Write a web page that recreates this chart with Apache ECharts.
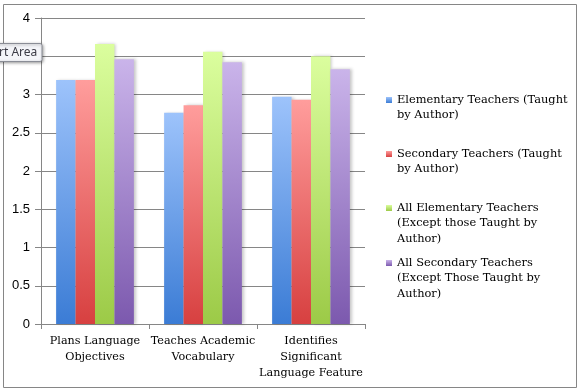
<!DOCTYPE html>
<html>
<head>
<meta charset="utf-8">
<script src="https://cdn.jsdelivr.net/npm/echarts@6/dist/echarts.min.js"></script>
<style>
html,body{margin:0;padding:0;background:#fff;}
#chart{width:582px;height:391px;}
</style>
</head>
<body>
<div id="chart"></div>
<script>
const categories = ['Plans Language\nObjectives', 'Teaches Academic\nVocabulary', 'Identifies\nSignificant\nLanguage Feature'];
const seriesNames = [
  'Elementary Teachers (Taught\nby Author)',
  'Secondary Teachers (Taught\nby Author)',
  'All Elementary Teachers\n(Except those Taught by\nAuthor)',
  'All Secondary Teachers\n(Except Those Taught by\nAuthor)'
];
const elemTaught = [3.19, 2.76, 2.97];
const secTaught = [3.19, 2.86, 2.93];
const allElem = [3.66, 3.56, 3.50];
const allSec = [3.46, 3.42, 3.33];
const yTicks = [0, 0.5, 1, 1.5, 2, 2.5, 3, 3.5, 4];

const gradients = [
  ['#9dc3fb', '#3b7cd5'],
  ['#ff9d9c', '#d74040'],
  ['#dbfe9e', '#9cca47'],
  ['#cab4ea', '#7c59ae']
];
const values = [elemTaught, secTaught, allElem, allSec];
const FONT = '"DejaVu Serif", serif';

function grad(c) {
  return new echarts.graphic.LinearGradient(0, 0, 0, 1, [
    {offset: 0, color: c[0]}, {offset: 1, color: c[1]}
  ]);
}

const legendCenters = [100, 154, 208, 263];
const LH = 15.5;

const chart = echarts.init(document.getElementById('chart'));
chart.setOption({
  animation: false,
  backgroundColor: '#fff',
  grid: {left: 41, right: 217, top: 18, bottom: 67, containLabel: false},
  legend: seriesNames.map((n, i) => {
    const lines = n.split('\n').length;
    return {
      data: [n],
      left: 386,
      top: legendCenters[i] - (lines - 1) * LH - LH / 2,
      orient: 'vertical',
      itemWidth: 6,
      itemHeight: 6,
      itemGap: 0,
      padding: 0,
      selectedMode: false,
      icon: 'rect',
      formatter: name => '\n'.repeat(name.split('\n').length - 1) + name,
      textStyle: {fontFamily: FONT, fontSize: 11.4, color: '#000', lineHeight: LH}
    };
  }),
  xAxis: {
    type: 'category',
    data: categories,
    axisLine: {lineStyle: {color: '#868686', width: 1}},
    axisTick: {show: true, length: 5, lineStyle: {color: '#868686'}},
    axisLabel: {fontFamily: FONT, fontSize: 11.2, color: '#000', lineHeight: 16, margin: 9, interval: 0}
  },
  yAxis: {
    type: 'value',
    min: 0, max: 4, interval: 0.5,
    axisLine: {show: true, lineStyle: {color: '#868686', width: 1}},
    axisTick: {show: true, length: 6, lineStyle: {color: '#868686'}},
    axisLabel: {fontFamily: '"Liberation Sans", Arial, sans-serif', fontSize: 13, color: '#000', margin: 11,
      formatter: v => yTicks.includes(v) ? String(v) : ''},
    splitLine: {lineStyle: {color: '#868686', width: 1}}
  },
  series: values.map((d, i) => ({
    name: seriesNames[i],
    type: 'bar',
    data: d,
    barGap: '0%',
    barCategoryGap: '28%',
    itemStyle: {
      color: grad(gradients[i]),
      shadowColor: 'rgba(0,0,0,0.22)', shadowBlur: 3, shadowOffsetX: 2, shadowOffsetY: 0
    }
  })),
  graphic: [
    {type: 'rect', shape: {x: 3.5, y: 4.5, width: 573, height: 383}, style: {fill: null, stroke: '#868686', lineWidth: 1}, silent: true, z: -1},
    {type: 'rect', shape: {x: -5, y: 43.5, width: 47, height: 18, r: 2},
      style: {fill: '#f4f5f9', stroke: '#8a8d96', lineWidth: 1, shadowColor: 'rgba(0,0,0,0.35)', shadowBlur: 3, shadowOffsetX: 1, shadowOffsetY: 1}, z: 100},
    {type: 'text', x: -1, y: 52.5, style: {text: 'rt Area', font: '12px "Noto Sans", sans-serif', fill: '#3c3c46', verticalAlign: 'middle'}, z: 101}
  ]
});
</script>
</body>
</html>
